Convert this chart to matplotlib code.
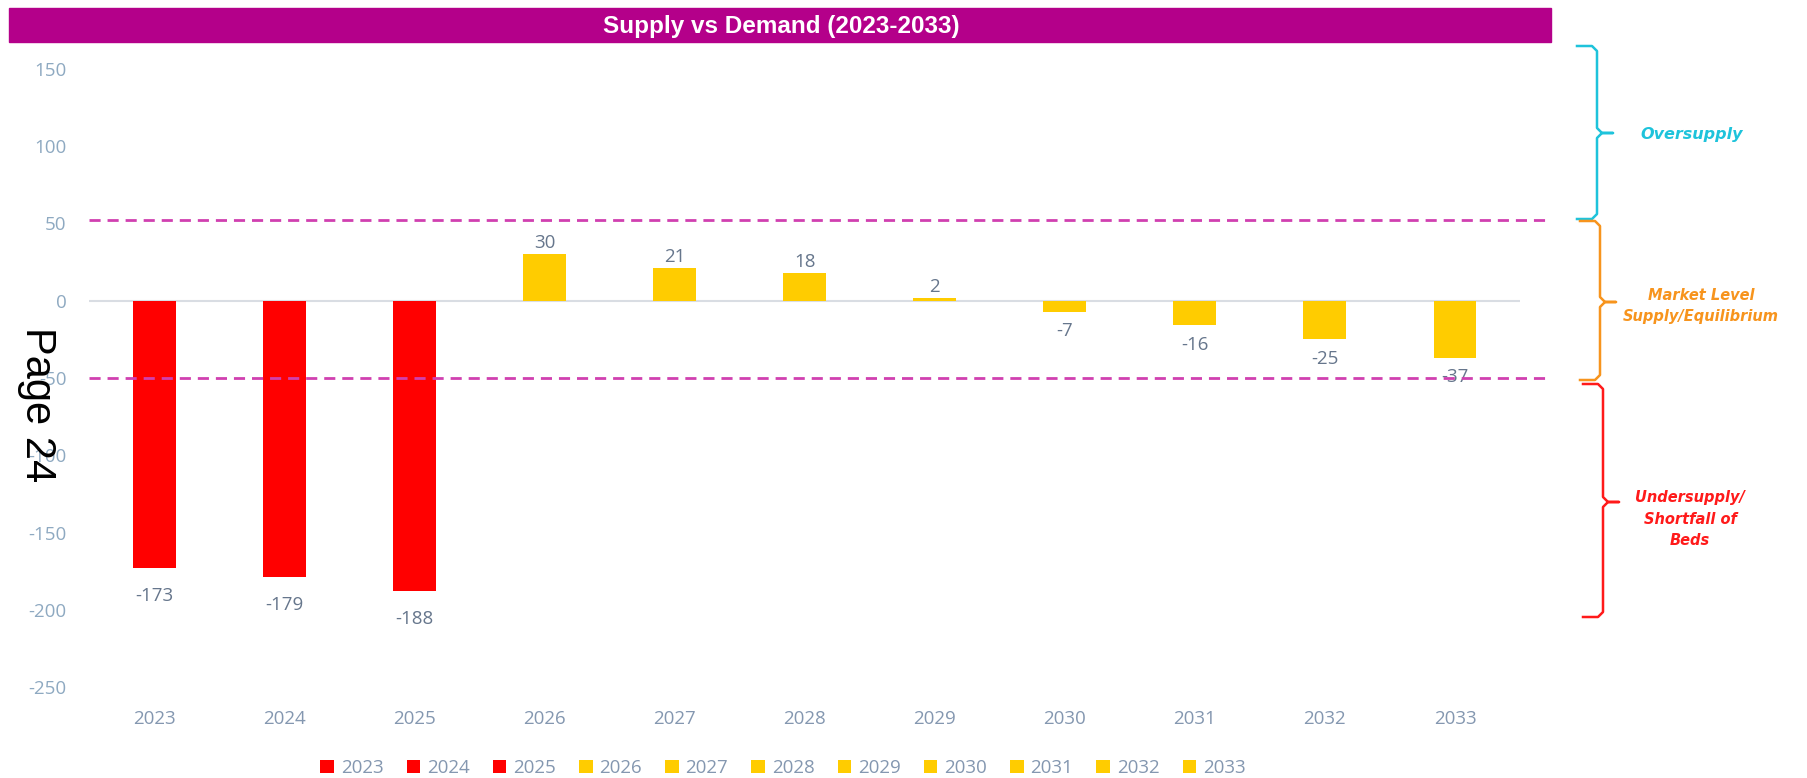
import matplotlib
matplotlib.use("Agg")
import matplotlib.pyplot as plt
from matplotlib.patches import Rectangle, Patch
from matplotlib.lines import Line2D
import numpy as np

# ---- data ----
years = ["2023", "2024", "2025", "2026", "2027", "2028", "2029", "2030", "2031", "2032", "2033"]
values = [-173, -179, -188, 30, 21, 18, 2, -7, -16, -25, -37]
bar_colors = ["#FF0000", "#FF0000", "#FF0000", "#FFCC00", "#FFCC00", "#FFCC00",
              "#FFCC00", "#FFCC00", "#FFCC00", "#FFCC00", "#FFCC00"]
y_ticks = [150, 100, 50, 0, -50, -100, -150, -200, -250]
band_limits = [52, -50]
title = "Supply vs Demand (2023-2033)"
zone_labels = ["Oversupply", "Market Level\nSupply/Equilibrium", "Undersupply/\nShortfall of\nBeds"]
zone_colors = ["#1EC3DB", "#F7941D", "#FF1A1A"]

W, H = 1808, 778
fig = plt.figure(figsize=(W / 100, H / 100), dpi=100)
plt.rcParams['font.family'] = ['Open Sans', 'DejaVu Sans']

def fx(px):
    return px / W

def fy(py):
    return 1 - py / H

ax = fig.add_axes([fx(89.5), fy(687), fx(1520 - 89.5), (687 - 69) / H])
x = np.arange(len(years))
ax.bar(x, values, width=0.33, color=bar_colors, zorder=3)
ax.set_xlim(-0.5, len(years) - 0.5)
ax.set_ylim(-250, 150)
ax.set_yticks(y_ticks)
ax.set_yticklabels([str(v) for v in y_ticks], color="#8EA9C1", fontsize=13.5)
ax.set_xticks(x)
ax.set_xticklabels(years, color="#8497B0", fontsize=13.5)
ax.tick_params(length=0)
ax.tick_params(axis="y", pad=16.5)
ax.tick_params(axis="x", pad=16.5)
for s in ax.spines.values():
    s.set_visible(False)
ax.axhline(0, color="#D9DDE3", lw=1.5, zorder=2)

# data labels
for xi, v, c in zip(x, values, bar_colors):
    if v >= 0:
        off = 8
    elif c == "#FF0000":
        off = -20
    else:
        off = -14
    ax.annotate(str(v), (xi, v), xytext=(0, off), textcoords="offset points",
                ha="center", va="center", color="#66768C", fontsize=13.5)

# dashed band lines (extend a bit past plot area)
x_end = -0.5 + (1551 - 89.5) / ((1520 - 89.5) / len(years))
for b in band_limits:
    ax.plot([-0.5, x_end], [b, b], color="#D040B0", lw=2, ls=(0, (4, 2.5)),
            clip_on=False, zorder=4)

# title bar
fig.patches.append(Rectangle((fx(9), fy(42)), fx(1551 - 9), (42 - 8) / H,
                             transform=fig.transFigure, color="#B4008A", zorder=0))
fig.text(fx(781), fy(26), title, color="white", fontsize=17.5, fontweight="bold",
         ha="center", va="center", family=["Liberation Sans", "DejaVu Sans"])

# braces
def brace(top, tip, bottom, xv, color):
    xl = xv - 20
    xt = xv + 16
    r = 5
    pts_x = [xl, xv - r, xv, xv, xv + r, xt, xv + r, xv, xv, xv - r, xl]
    pts_y = [top, top, top + r, tip - r, tip, tip, tip, tip + r, bottom - r, bottom, bottom]
    fig.add_artist(Line2D([fx(p) for p in pts_x], [fy(p) for p in pts_y],
                          transform=fig.transFigure, color=color, lw=1.8))

brace(46, 133, 219, 1597, zone_colors[0])
brace(221, 302, 380, 1600, zone_colors[1])
brace(384, 502, 617, 1603, zone_colors[2])

label_pos = [(1692, 134), (1701, 306), (1690, 519)]
label_sizes = [11.5, 10.5, 10.5]
for (px, py), lab, c, fs in zip(label_pos, zone_labels, zone_colors, label_sizes):
    fig.text(fx(px), fy(py), lab, color=c, fontsize=fs, fontweight="bold",
             fontstyle="italic", ha="center", va="center", linespacing=1.55,
             family=["DejaVu Sans"])

# legend
handles = [Patch(facecolor=c, edgecolor="none") for c in bar_colors]
leg = fig.legend(handles, years, loc="center", bbox_to_anchor=(fx(783), fy(768)),
                 ncol=len(years), frameon=False, fontsize=13.5, handlelength=0.72,
                 handleheight=0.75, handletextpad=0.37, columnspacing=1.23,
                 borderaxespad=0)
for t in leg.get_texts():
    t.set_color("#8497B0")

# page stamp
fig.text(fx(37), fy(405), "Page 24", rotation=-90, fontsize=30, color="black",
         ha="center", va="center", family=["Liberation Sans", "DejaVu Sans"])

fig.savefig("out.png", dpi=100)
